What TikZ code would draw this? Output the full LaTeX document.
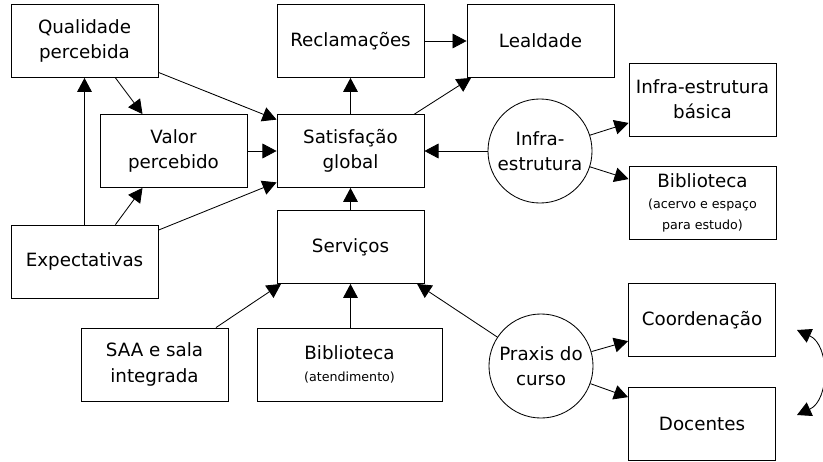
\documentclass[tikz,border=0pt]{standalone}
\usepackage{fontspec}
\setmainfont{DejaVu Sans}
\usetikzlibrary{arrows.meta}

\begin{document}
\begin{tikzpicture}[x=0.025cm, y=-0.025cm, >={Triangle[length=10pt,width=10.5pt]}, line width=0.6pt,
  box/.style={draw, minimum width=3.675cm, minimum height=1.825cm, align=center, font=\fontsize{13}{18}\selectfont},
  circ/.style={draw, circle, minimum size=2.6cm, inner sep=0pt, align=center, font=\fontsize{13}{18}\selectfont}]
\useasboundingbox (0,0) rectangle (823,461);
\node [box](qual) at (84.5,41){Qualidade\\percebida};
\node [box](val) at (173.5,151){Valor\\percebido};
\node [box](expec) at (84.5,261.5){Expectativas};
\node [box](sat) at (350.5,151){Satisfação\\global};
\node [box](recl) at (350.5,41){Reclamações};
\node [box](leal) at (540.5,41){Lealdade};
\node [circ](infra) at (540,151){Infra-\\estrutura};
\node [box](basica) at (702.5,99.5){Infra-estrutura\\básica};
\node [box](bibac) at (702.5,202.5){Biblioteca\\[-3pt]{\fontsize{9}{13}\selectfont(acervo e espaço}\\[-3pt]{\fontsize{9}{13}\selectfont para estudo)}};
\node [box](serv) at (350.5,247){Serviços};
\node [box](saa) at (154.5,364.5){SAA e sala\\integrada};
\node [box, minimum width=4.625cm](bibat) at (349.5,364.5){Biblioteca\\[-2pt]{\fontsize{9}{13}\selectfont(atendimento)}};
\node [circ](praxis) at (541,366){Praxis do\\curso};
\node [box](coord) at (702,320){Coordenação};
\node [box](doc) at (702,423.5){Docentes};
\coordinate (ca) at (797,330);
\coordinate (cb) at (797,415);
% arrows
\draw [->] (qual.-50) -- (val.130);
\draw [->] (qual.-23) -- (sat.157);
\draw [->] (val) -- (sat);
\draw [->] (expec) -- (qual);
\draw [->] (expec.50) -- (val.-130);
\draw [->] (expec.23) -- (sat.-157);
\draw [->] (sat) -- (recl);
\draw [->] (recl) -- (leal);
\draw [->] (sat.30) -- (leal.-152);
\draw [->] (infra) -- (sat);
\draw [->] (infra) -- (basica);
\draw [->] (infra) -- (bibac);
\draw [->] (serv) -- (sat);
\draw [->] (saa.31) -- (serv.-152);
\draw [->] (bibat.north -| serv.south) -- (serv.south);
\draw [->] (praxis) -- (serv.-29);
\draw [->] (praxis) -- (coord);
\draw [->] (praxis) -- (doc);
\draw [<->] (ca) .. controls (830,345) and (830,400) .. (cb);
\end{tikzpicture}
\end{document}
